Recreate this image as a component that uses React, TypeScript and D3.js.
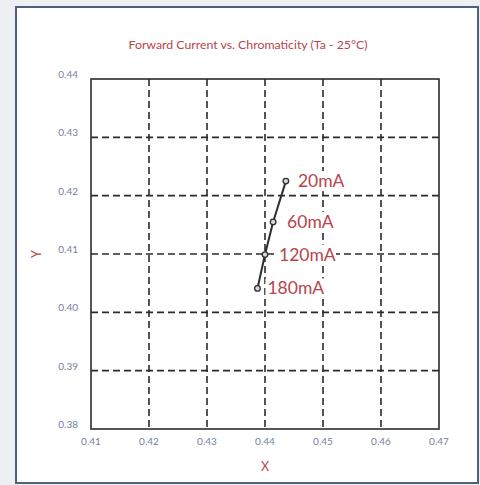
import React from "react";
import * as d3 from "d3";

const currents = ["20mA", "60mA", "120mA", "180mA"];
const chromaX = [0.4436, 0.4414, 0.44, 0.4387];
const chromaY = [0.4225, 0.4155, 0.4099, 0.4041];
const xTicks = [0.41, 0.42, 0.43, 0.44, 0.45, 0.46, 0.47];
const yTicks = [0.38, 0.39, 0.4, 0.41, 0.42, 0.43, 0.44];
const labelShift = [12, 14, 14, 10];

const W = 480;
const H = 485;
const plot = { left: 91, right: 439, top: 79, bottom: 429 };

export default function App() {
  const x = d3.scaleLinear().domain([0.41, 0.47]).range([plot.left, plot.right]);
  const y = d3.scaleLinear().domain([0.38, 0.44]).range([plot.bottom, plot.top]);
  const pts = currents.map((c, i) => ({ c, x: chromaX[i], y: chromaY[i], dx: labelShift[i] }));
  const line = d3
    .line<{ x: number; y: number }>()
    .x((d) => x(d.x))
    .y((d) => y(d.y));

  const gridColor = "#2b2b2b";
  const tickColor = "#74819c";
  const red = "#b8444c";
  const font = "Lato, 'Open Sans', sans-serif";

  return (
    <svg
      width={W}
      height={H}
      style={{ position: "absolute", left: 0, top: 0, display: "block" }}
      fontFamily={font}
    >
      <rect x={0} y={0} width={W} height={H} fill="#edf0f3" />
      <rect x={16} y={7} width={462} height={476} fill="#ffffff" stroke="#4f5f7c" strokeWidth={2} />
      <text x={248} y={49} textAnchor="middle" fontSize={12.3} fill={red}>
        Forward Current vs. Chromaticity (Ta - 25°C)
      </text>

      {/* dashed interior grid */}
      {xTicks.slice(1, -1).map((t) => (
        <line
          key={"gx" + t}
          x1={x(t)}
          x2={x(t)}
          y1={plot.top}
          y2={plot.bottom}
          stroke={gridColor}
          strokeWidth={1.6}
          strokeDasharray="7,4"
        />
      ))}
      {yTicks.slice(1, -1).map((t) => (
        <line
          key={"gy" + t}
          x1={plot.left}
          x2={plot.right}
          y1={y(t)}
          y2={y(t)}
          stroke={gridColor}
          strokeWidth={1.6}
          strokeDasharray="7,4"
        />
      ))}
      <rect
        x={plot.left}
        y={plot.top}
        width={plot.right - plot.left}
        height={plot.bottom - plot.top}
        fill="none"
        stroke={gridColor}
        strokeWidth={1.6}
      />

      {/* tick labels */}
      {xTicks.map((t) => (
        <text key={"tx" + t} x={x(t)} y={445} textAnchor="middle" fontSize={10} fill={tickColor}>
          {t.toFixed(2)}
        </text>
      ))}
      {yTicks.map((t) => (
        <text key={"ty" + t} x={78} y={y(t) - 1} textAnchor="end" fontSize={10} fill={tickColor}>
          {t.toFixed(2)}
        </text>
      ))}

      {/* axis titles */}
      <text x={265} y={471} textAnchor="middle" fontSize={12.5} fill={red}>
        X
      </text>
      <text
        transform={`translate(41,${y(0.41)}) rotate(-90)`}
        textAnchor="middle"
        fontSize={12.5}
        fill={red}
      >
        Y
      </text>

      {/* data series */}
      <path d={line(pts) ?? ""} fill="none" stroke="#2e2e2e" strokeWidth={2} />
      {pts.map((p) => (
        <circle
          key={"pt" + p.c}
          cx={x(p.x)}
          cy={y(p.y)}
          r={2.8}
          fill="#d8d8d8"
          stroke="#2e2e2e"
          strokeWidth={1.3}
        />
      ))}
      {pts.map((p) => {
        const tx = x(p.x) + p.dx;
        const ty = y(p.y) + 6;
        return (
          <g key={"lb" + p.c}>
            <rect x={tx - 2} y={ty - 16} width={p.c.length * 11 + 4} height={20} fill="#ffffff" />
            <text x={tx} y={ty} fontSize={17.5} fill={red}>
              {p.c}
            </text>
          </g>
        );
      })}
    </svg>
  );
}
